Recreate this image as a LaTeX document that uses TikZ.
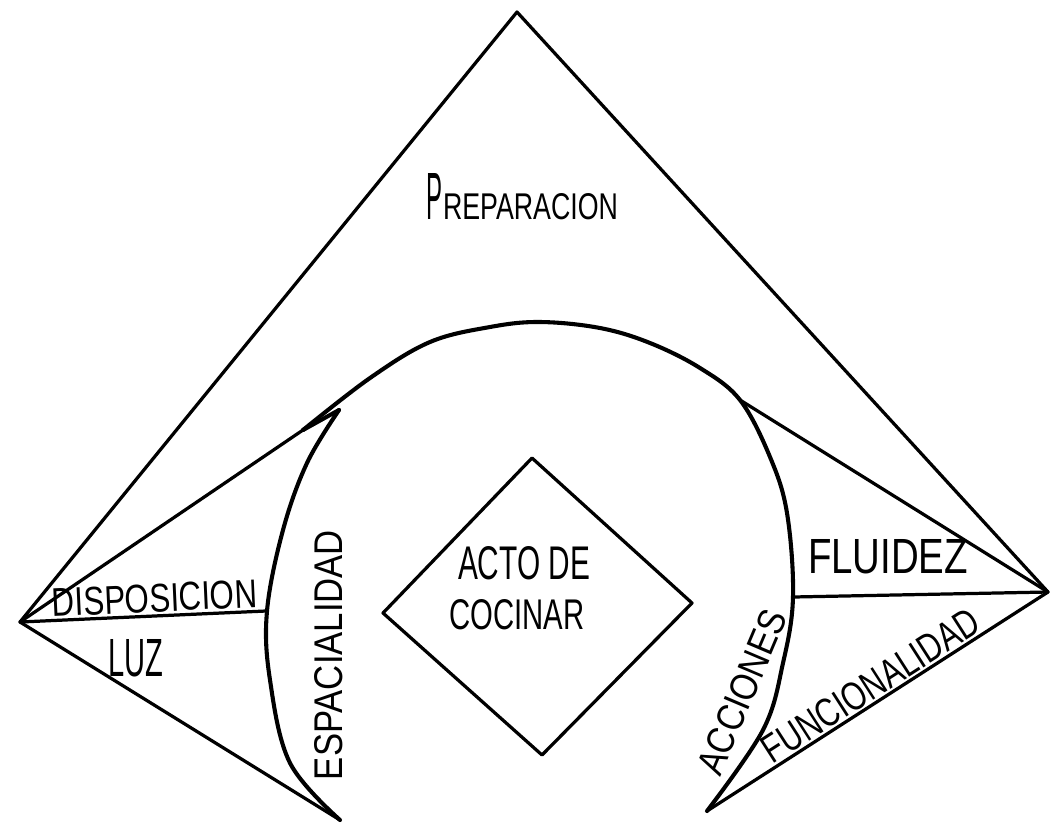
\documentclass[tikz,border=0pt]{standalone}
\usepackage{fontspec}
\setmainfont{Liberation Sans}
\usepackage{graphicx}
\newlength\pxu
\setlength\pxu{0.025cm}
\newcommand\fitbox[3]{\resizebox{#1\pxu}{#2\pxu}{#3}}
\begin{document}
\begin{tikzpicture}[x=0.025cm,y=-0.025cm,
  edge/.style={line width=2.3pt,line cap=round,line join=round},
  curve/.style={line width=2.9pt,line cap=round,line join=round},
  lab/.style={inner sep=0pt,outer sep=0pt}]
\useasboundingbox (0,0) rectangle (1050,824);
% key points
\coordinate (A) at (517,12);
\coordinate (L) at (20,622);
\coordinate (R) at (1048,592);
\coordinate (arcL) at (303,430);
\coordinate (hook) at (339,410);
\coordinate (arcR) at (740,400);
\coordinate (espMid) at (266,611);
\coordinate (espBot) at (340,820);
\coordinate (accMid) at (793,597);
\coordinate (accBot) at (707,811);
% big triangle
\draw[edge] (L) -- (A) -- (R);
% left fan
\draw[edge] (L) -- (arcL);
\draw[edge] (L) -- (espMid);
\draw[edge] (L) -- (espBot);
% right fan
\draw[edge] (R) -- (arcR);
\draw[edge] (R) -- (accMid);
\draw[edge] (R) -- (accBot);
% top arc continuing into right arc
\draw[curve] plot[smooth,tension=0.6] coordinates {(303,430) (370,378) (430,342) (490,327) (540,322) (600,328) (650,343) (700,368) (740,400) (770,457) (787,513) (793,597) (783,663) (763,730) (707,811)};
% hook and left arc
\draw[curve] (arcL) -- (hook);
\draw[curve] plot[smooth,tension=0.6] coordinates {(339,410) (307,463) (283,530) (267,611) (270,680) (290,763) (340,820)};
% diamond
\draw[edge] (532,458) -- (692,603) -- (542,755) -- (383,613) -- cycle;
% labels
\node[lab,anchor=base west] (prepP) at (426,219) {\fitbox{16}{46}{P}};
\node[lab,anchor=base west] (prep) at (443,219) {\fitbox{175}{26}{REPARACION}};
\node[lab,anchor=south west,rotate=2.6] (disp) at (53,617) {\fitbox{205}{28}{DISPOSICION}};
\node[lab] (luz) at (136,658) {\fitbox{55}{37}{LUZ}};
\node[lab,rotate=90] (esp) at (329,655) {\fitbox{250}{28}{ESPACIALIDAD}};
\node[lab,rotate=67] (acc) at (742,692) {\fitbox{175}{27}{ACCIONES}};
\node[lab] (flu) at (888,557) {\fitbox{160}{34}{FLUIDEZ}};
\node[lab,anchor=south west,rotate=32.7] (fun) at (773,765) {\fitbox{250}{28}{FUNCIONALIDAD}};
\node[lab] (acto) at (524,563) {\fitbox{132}{33}{ACTO DE}};
\node[lab] (coc) at (517,615) {\fitbox{135}{30}{COCINAR}};
\end{tikzpicture}
\end{document}
